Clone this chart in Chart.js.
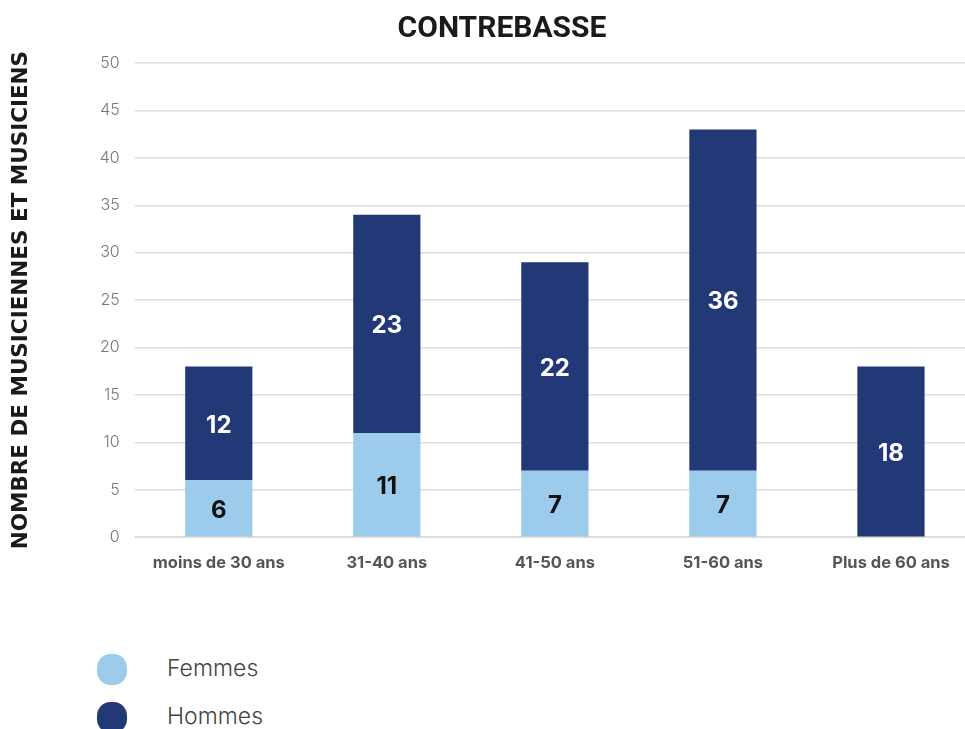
<!DOCTYPE html>
<html>
<head>
<meta charset="utf-8">
<script src="https://cdn.jsdelivr.net/npm/chart.js@4"></script>
<style>
  html, body { margin: 0; padding: 0; background: #fff; overflow: hidden; }
  body { width: 965px; height: 729px; position: relative; font-family: "Inter", "Noto Sans", sans-serif; }
  #title { position: absolute; top: 9px; left: 302px; width: 400px; text-align: center;
    font: bold 30px "Roboto", "Liberation Sans", sans-serif; color: #1a1a1a; margin: 0; }
  #wrap { position: absolute; left: 0; top: 0; width: 975px; height: 595px; }
  .legend { position: absolute; left: 97px; font: 300 23px "Inter", sans-serif; color: #444; }
  .legend span { display: inline-block; width: 30px; height: 31px; border-radius: 45%; vertical-align: middle; margin-right: 40px; }
</style>
</head>
<body>
<div id="wrap"><canvas id="chart" width="975" height="595"></canvas></div>
<h1 id="title">CONTREBASSE</h1>
<div class="legend" style="top:654px"><span style="background:#9ccbeb"></span>Femmes</div>
<div class="legend" style="top:702px"><span style="background:#233876"></span>Hommes</div>
<script>
var ageGroups = ["moins de 30 ans", "31-40 ans", "41-50 ans", "51-60 ans", "Plus de 60 ans"];
var femmes = [6, 11, 7, 7, 0];
var hommes = [12, 23, 22, 36, 18];

var lightBlue = "#9ccbeb";
var navy = "#233876";

// draws the value in the middle of each bar segment
var barLabels = {
  id: "barLabels",
  afterDatasetsDraw: function(chart) {
    var ctx = chart.ctx;
    ctx.save();
    ctx.font = "bold 24px 'Inter', sans-serif";
    ctx.textAlign = "center";
    ctx.textBaseline = "middle";
    chart.data.datasets.forEach(function(ds, i) {
      chart.getDatasetMeta(i).data.forEach(function(bar, j) {
        var v = ds.data[j];
        if (!v) return;
        ctx.fillStyle = i === 0 ? "#111" : "#fff";
        ctx.fillText(v, bar.x, (bar.y + bar.base) / 2 + 2);
      });
    });
    ctx.restore();
  }
};

new Chart("chart", {
  type: "bar",
  data: {
    labels: ageGroups,
    datasets: [
      { label: "Femmes", data: femmes, backgroundColor: lightBlue },
      { label: "Hommes", data: hommes, backgroundColor: navy }
    ]
  },
  options: {
    responsive: false,
    animation: false,
    layout: { padding: { top: 63, bottom: 14, left: 9 } },
    plugins: { legend: { display: false }, tooltip: { enabled: false } },
    datasets: { bar: { barPercentage: 0.4, categoryPercentage: 1 } },
    scales: {
      x: {
        stacked: true,
        grid: { display: false },
        border: { color: "#ddd" },
        ticks: { color: "#555", font: { family: "Inter", size: 16.5, weight: "bold" }, padding: 8 }
      },
      y: {
        stacked: true,
        min: 0, max: 50,
        ticks: { stepSize: 5, color: "#777", font: { family: "Inter", size: 16, weight: "300" }, padding: 15 },
        grid: { color: "#ddd", lineWidth: 1.5, drawTicks: false },
        border: { display: false },
        title: {
          display: true,
          text: "NOMBRE DE MUSICIENNES ET MUSICIENS",
          color: "#1a1a1a",
          font: { family: "DejaVu Sans", size: 21.5, weight: "bold" },
          padding: { top: 0, bottom: 50 }
        }
      }
    }
  },
  plugins: [barLabels]
});
</script>
</body>
</html>
